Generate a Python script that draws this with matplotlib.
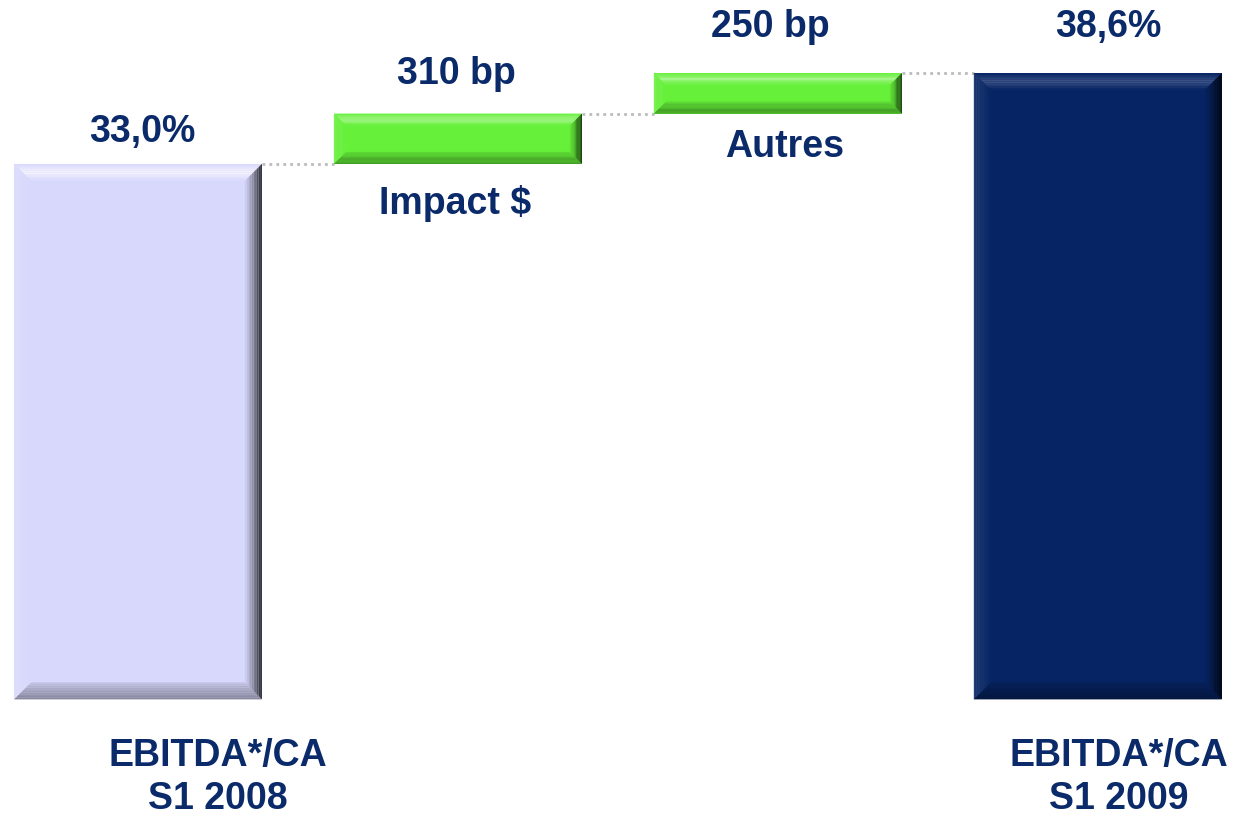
import numpy as np
import matplotlib
matplotlib.use("Agg")
import matplotlib.pyplot as plt
from matplotlib.patches import Polygon
from matplotlib.colors import to_rgb

# data
categories = ["EBITDA*/CA\nS1 2008", "Impact $", "Autres", "EBITDA*/CA\nS1 2009"]
values = [33.0, 3.1, 2.5, 38.6]
is_total = [True, False, False, True]
value_labels = ["33,0%", "310 bp", "250 bp", "38,6%"]

navy_text = "#0B2A6A"
colors = ["#D8D8FC", "#66F03A", "#66F03A", "#062463"]

plt.rcParams['font.family'] = ['Liberation Sans', 'DejaVu Sans']

fig = plt.figure(figsize=(12.37, 8.18), dpi=100)
ax = fig.add_axes([0, 0, 1, 1])
ax.set_xlim(-0.431, 3.435)
ax.set_ylim(-7.31, 43.1)
ax.axis('off')

x = np.arange(len(values))
width = 0.775
bottoms = []
tops = []
run = 0.0
for v, tot in zip(values, is_total):
    if tot:
        bottoms.append(0.0)
        tops.append(v)
        run = v
    else:
        bottoms.append(run)
        run += v
        tops.append(run)
heights = [t - b for t, b in zip(tops, bottoms)]

bars = ax.bar(x, heights, width, bottom=bottoms, color=colors, zorder=2)

# pixel -> data scale
sx = 1.0 / (ax.transData.transform((1, 0))[0] - ax.transData.transform((0, 0))[0])
sy = 1.0 / (ax.transData.transform((0, 1))[1] - ax.transData.transform((0, 0))[1])


def mix(c, target, t):
    c = np.array(to_rgb(c))
    target = np.array(to_rgb(target))
    return tuple(c + (target - c) * t)


def band(pts):
    return Polygon(pts, closed=True, lw=0, zorder=3)


def bevel(rect, base, b, light):
    x0, y0 = rect.get_x(), rect.get_y()
    x1, y1 = x0 + rect.get_width(), y0 + rect.get_height()
    n = 10
    for i in range(n):
        f0, f1 = i / n, (i + 1) / n
        t = 1 - abs((f0 + f1) / 2 - 0.5) * 2
        # top band: highlight
        p = band([(x0 + b * f0 * sx, y1 - b * f0 * sy), (x1 - b * f0 * sx, y1 - b * f0 * sy),
                  (x1 - b * f1 * sx, y1 - b * f1 * sy), (x0 + b * f1 * sx, y1 - b * f1 * sy)])
        p.set_color(mix(base, "white", light * t))
        ax.add_patch(p)
        # bottom band: darker
        p = band([(x0 + b * f0 * sx, y0 + b * f0 * sy), (x1 - b * f0 * sx, y0 + b * f0 * sy),
                  (x1 - b * f1 * sx, y0 + b * f1 * sy), (x0 + b * f1 * sx, y0 + b * f1 * sy)])
        p.set_color(mix(base, "black", 0.35 * (1 - f0) ** 0.7 + 0.03))
        ax.add_patch(p)
        # right band: darkest
        p = band([(x1 - b * f0 * sx, y0 + b * f0 * sy), (x1 - b * f0 * sx, y1 - b * f0 * sy),
                  (x1 - b * f1 * sx, y1 - b * f1 * sy), (x1 - b * f1 * sx, y0 + b * f1 * sy)])
        p.set_color(mix(base, "black", 0.8 * (1 - f0) ** 1.3 + 0.02))
        ax.add_patch(p)
        # left band: slight shade
        p = band([(x0 + b * f0 * sx, y0 + b * f0 * sy), (x0 + b * f0 * sx, y1 - b * f0 * sy),
                  (x0 + b * f1 * sx, y1 - b * f1 * sy), (x0 + b * f1 * sx, y0 + b * f1 * sy)])
        p.set_color(mix(base, "white", 0.12 * (1 - f0)))
        ax.add_patch(p)


bevel_px = [17, 12, 12, 17]
lights = [0.7, 0.45, 0.45, 0.22]
for rect, col, b, lt in zip(bars, colors, bevel_px, lights):
    bevel(rect, col, b, lt)

# dotted connectors
for i in range(len(values) - 1):
    ax.plot([x[i] + width / 2, x[i + 1] - width / 2], [tops[i], tops[i]],
            ls=(0, (1, 1.5)), color="#BBBBBB", lw=2, zorder=1)

fs = 27
# value labels above bars
val_offsets = [(4, 32), (-2, 40), (-8, 46), (10, 46)]
for i, lab in enumerate(value_labels):
    ax.annotate(lab, (x[i], tops[i]), xytext=val_offsets[i], textcoords='offset pixels',
                ha='center', va='center', fontsize=fs, fontweight='bold', color=navy_text)

# step labels below the floating bars, category labels under the totals
step_offsets = [(80, -78), (-3, -40), (7, -33), (21, -78)]
for i, lab in enumerate(categories):
    ax.annotate(lab, (x[i], bottoms[i]), xytext=step_offsets[i], textcoords='offset pixels',
                ha='center', va='center', fontsize=fs, fontweight='bold', color=navy_text,
                linespacing=1.25, multialignment='center')

fig.savefig("out.png", dpi=100)
